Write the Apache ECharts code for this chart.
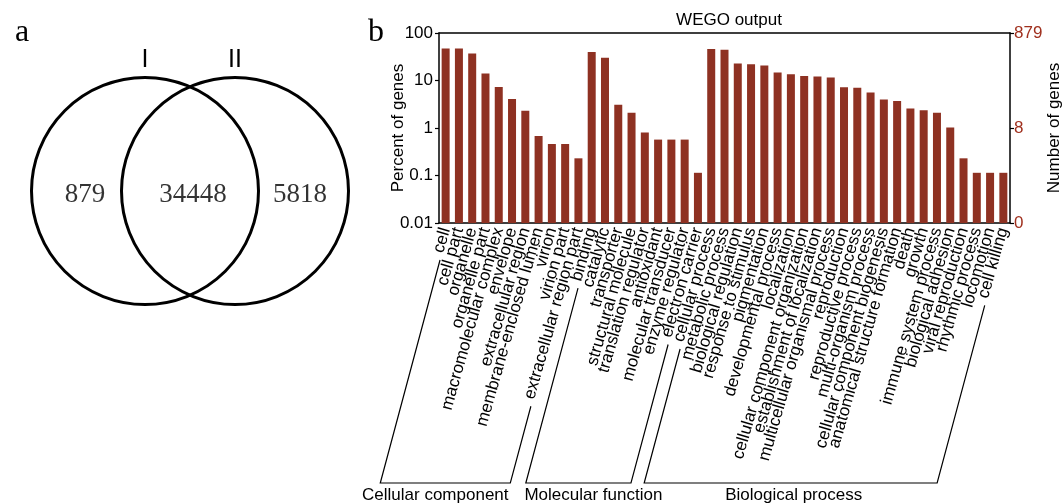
<!DOCTYPE html>
<html><head><meta charset="utf-8">
<script src="https://cdn.jsdelivr.net/npm/echarts@6/dist/echarts.min.js"></script>
<style>html,body{margin:0;padding:0;background:#fff}#c{width:1063px;height:504px}</style>
</head><body><div id="c"></div>
<script>
// ---- Data ----
const vennSets = ['I', 'II'];
const vennCounts = [879, 34448, 5818]; // only I, shared, only II

const groupNames = ['Cellular component', 'Molecular function', 'Biological process'];

const ccTerms = ['cell', 'cell part', 'organelle', 'organelle part', 'macromolecular complex', 'envelope',
  'extracellular region', 'membrane-enclosed lumen', 'virion', 'virion part', 'extracellular region part'];
const ccValues = [47, 47, 37, 14, 7.3, 4.1, 2.3, 0.68, 0.46, 0.46, 0.23];

const mfTerms = ['binding', 'catalytic', 'transporter', 'structural molecule', 'translation regulator',
  'antioxidant', 'molecular transducer', 'enzyme regulator', 'electron carrier'];
const mfValues = [40, 30, 3.1, 2.1, 0.8, 0.57, 0.57, 0.57, 0.114];

const bpTerms = ['cellular process', 'metabolic process', 'biological regulation', 'response to stimulus',
  'pigmentation', 'developmental process', 'localization', 'cellular component organization',
  'establishment of localization', 'multicellular organismal process', 'reproduction', 'reproductive process',
  'multi-organism process', 'cellular component biogenesis', 'anatomical structure formation', 'death',
  'growth', 'immune system process', 'biological adhesion', 'viral reproduction', 'rhythmic process',
  'locomotion', 'cell killing'];
const bpValues = [46, 44.5, 22.8, 22, 20.7, 14.7, 13.6, 12.5, 12.1, 11.5, 7.2, 7.0, 5.6, 4.0, 3.7,
  2.56, 2.37, 2.1, 1.03, 0.23, 0.114, 0.114, 0.114];

const rightTickLabels = ['0', '8', '879'];

// ---- Build ----
const categories = ccTerms.concat(mfTerms, bpTerms);
const values = ccValues.concat(mfValues, bpValues);
const groupRanges = [
  [0, ccTerms.length - 1],
  [ccTerms.length, ccTerms.length + mfTerms.length - 1],
  [ccTerms.length + mfTerms.length, categories.length - 1]
];

const SANS = '"Liberation Sans", Arial, Helvetica, sans-serif';
const SERIF = '"Liberation Serif", "Times New Roman", serif';
const LABEL_SIZE = 17;
const ROT = 74;
const LABEL_MARGIN = 5;
const barColor = '#8E3122';
const redText = '#A0301E';

const chart = echarts.init(document.getElementById('c'));

const panelLabels = [
  { type: 'text', id: 'pa', x: 22, y: 33, style: { text: 'a', font: '32px ' + SERIF, fill: '#000', align: 'center', verticalAlign: 'middle' } },
  { type: 'text', id: 'pb', x: 376, y: 33, style: { text: 'b', font: '32px ' + SERIF, fill: '#000', align: 'center', verticalAlign: 'middle' } }
];

const option = {
  animation: false,
  backgroundColor: '#fff',
  title: {
    text: 'WEGO output', left: 724, top: 7, textAlign: 'center',
    textStyle: { fontFamily: SANS, fontSize: 17, fontWeight: 'normal', color: '#000' }
  },
  grid: [
    { left: 30, top: 76, width: 320, height: 230, outerBoundsMode: 'none', containLabel: false },
    { left: 439, right: 53, top: 33, bottom: 281, outerBoundsMode: 'none', containLabel: false }
  ],
  xAxis: [
    { gridIndex: 0, type: 'value', min: -1.6, max: 1.6, show: false },
    {
      gridIndex: 1, type: 'category', data: categories, position: 'bottom', boundaryGap: true,
      axisLine: { onZero: false, lineStyle: { color: '#000', width: 1.5 } },
      axisTick: { inside: true, length: 4, lineStyle: { color: '#000', width: 1.2 } },
      axisLabel: { interval: 0, rotate: ROT, margin: LABEL_MARGIN, fontFamily: SANS, fontSize: LABEL_SIZE, color: '#000', hideOverlap: false }
    },
    {
      gridIndex: 1, type: 'category', data: categories, position: 'top', boundaryGap: true,
      axisLine: { onZero: false, lineStyle: { color: '#000', width: 1.5 } },
      axisTick: { inside: true, length: 4, lineStyle: { color: '#000', width: 1.2 } },
      axisLabel: { show: false }
    }
  ],
  yAxis: [
    { gridIndex: 0, type: 'value', min: -1, max: 1, show: false },
    {
      gridIndex: 1, type: 'log', logBase: 10, min: 0.01, max: 100, startValue: 0.01,
      name: 'Percent of genes', nameLocation: 'middle', nameRotate: 90, nameGap: 32, nameMoveOverlap: false,
      nameTextStyle: { fontFamily: SANS, fontSize: 17, color: '#000' },
      axisLine: { show: true, onZero: false, lineStyle: { color: '#000', width: 1.5 } },
      axisTick: { show: true, inside: false, length: 4, lineStyle: { color: '#000', width: 1.2 } },
      splitLine: { show: false },
      axisLabel: {
        margin: 6, fontFamily: SANS, fontSize: 17, color: '#000',
        formatter: v => parseFloat(Number(v).toPrecision(6)).toString()
      }
    },
    {
      gridIndex: 1, type: 'value', position: 'right', min: -2, max: 2, interval: 2,
      name: 'Number of genes', nameLocation: 'middle', nameRotate: 90, nameGap: 36, nameMoveOverlap: false,
      nameTextStyle: { fontFamily: SANS, fontSize: 17, color: '#000' },
      axisLine: { show: true, onZero: false, lineStyle: { color: '#000', width: 1.5 } },
      axisTick: { show: true, inside: false, length: 4, lineStyle: { color: '#000', width: 1.2 } },
      splitLine: { show: false },
      axisLabel: {
        margin: 4, fontFamily: SANS, fontSize: 17, color: redText,
        formatter: v => rightTickLabels[Math.round((v + 2) / 2)]
      }
    }
  ],
  series: [
    {
      type: 'scatter', xAxisIndex: 0, yAxisIndex: 0, silent: true,
      data: vennSets.map((s, i) => ({ name: s, value: [i === 0 ? -0.45 : 0.45, 0] })),
      symbol: 'circle', symbolSize: 227,
      itemStyle: { color: 'rgba(0,0,0,0)', borderColor: '#000', borderWidth: 3, opacity: 1 },
      label: { show: true, position: 'top', distance: 3, formatter: '{b}', fontFamily: SANS, fontSize: 25, color: '#000' }
    },
    {
      type: 'scatter', xAxisIndex: 0, yAxisIndex: 0, silent: true,
      data: vennCounts.map((c, i) => ({ value: [[-1.05, 0.03, 1.1][i], -0.03] })),
      symbolSize: 1, itemStyle: { color: 'rgba(0,0,0,0)' },
      label: { show: true, position: 'inside', formatter: p => String(vennCounts[p.dataIndex]), fontFamily: SERIF, fontSize: 27, color: '#000' }
    },
    {
      type: 'bar', xAxisIndex: 1, yAxisIndex: 1, data: values, barWidth: 8,
      itemStyle: { color: barColor }
    }
  ],
  graphic: { elements: panelLabels }
};

chart.setOption(option);

// ---- Group brackets, derived from axis positions and label lengths ----
(function () {
  const ctx = document.createElement('canvas').getContext('2d');
  ctx.font = LABEL_SIZE + 'px ' + SANS;
  const ang = 75 * Math.PI / 180;
  const tang = ROT * Math.PI / 180;
  const axisY = chart.convertToPixel({ yAxisIndex: 1 }, 0.01);
  const baseY = 483, gap = 8, shift = 5;
  const textOffsets = [-10, 15, 3];
  const els = panelLabels.slice();
  groupRanges.forEach(([a, b], gi) => {
    const legTop = i => {
      const x = chart.convertToPixel({ xAxisIndex: 1 }, categories[i]);
      const w = ctx.measureText(categories[i]).width + LABEL_MARGIN + gap;
      return [x - Math.cos(tang) * w + shift, axisY + Math.sin(tang) * w];
    };
    const t1 = legTop(a), t2 = legTop(b);
    const b1 = [t1[0] - (baseY - t1[1]) / Math.tan(ang), baseY];
    const b2 = [t2[0] - (baseY - t2[1]) / Math.tan(ang), baseY];
    els.push({
      type: 'polyline', id: 'br' + gi, silent: true,
      shape: { points: [t1, b1, b2, t2] },
      style: { stroke: '#000', lineWidth: 1.2, fill: null }
    });
    els.push({
      type: 'text', id: 'gt' + gi, x: (b1[0] + b2[0]) / 2 + textOffsets[gi], y: baseY + 12,
      style: { text: groupNames[gi], font: '17px ' + SANS, fill: '#000', align: 'center', verticalAlign: 'middle' }
    });
  });
  chart.setOption({ graphic: { elements: els } });
})();
</script>
</body></html>
